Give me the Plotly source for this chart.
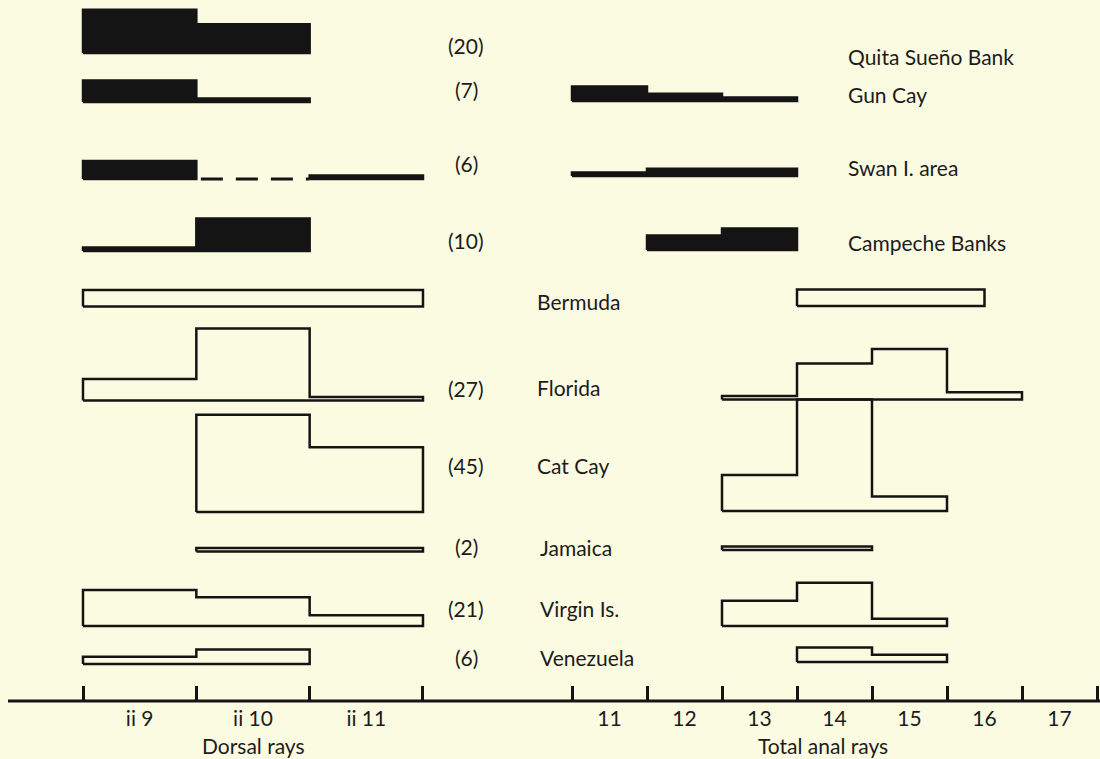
import plotly.graph_objects as go

# ---------------- data ----------------
regions = ["Quita Sueño Bank", "Gun Cay", "Swan I. area", "Campeche Banks", "Bermuda",
           "Florida", "Cat Cay", "Jamaica", "Virgin Is.", "Venezuela"]
sample_sizes = [20, 7, 6, 10, None, 27, 45, 2, 21, 6]

dorsal_bins = [9, 10, 11]
dorsal_tick_labels = ["ii 9", "ii 10", "ii 11"]
anal_bins = [11, 12, 13, 14, 15, 16]
anal_tick_vals = [11, 12, 13, 14, 15, 16, 17]
anal_tick_labels = ["11", "12", "13", "14", "15", "16", "17"]

# counts per bin (ii9, ii10, ii11)
dorsal_quita = [12, 8, 0]
dorsal_gun = [6, 1, 0]
dorsal_swan = [5, 0, 1]
dorsal_campeche = [1, 9, 0]
dorsal_florida = [6, 20, 1]
dorsal_catcay = [0, 27, 18]
dorsal_jamaica = [0, 1, 1]
dorsal_virgin = [10, 8, 3]
dorsal_venezuela = [2, 4, 0]

# counts per bin (11, 12, 13, 14, 15, 16)
anal_gun = [4, 2, 1, 0, 0, 0]
anal_swan = [1, 2, 2, 0, 0, 0]
anal_campeche = [0, 4, 6, 0, 0, 0]
anal_florida = [0, 0, 1, 10, 14, 2]
anal_catcay = [0, 0, 10, 31, 4, 0]
anal_jamaica = [0, 0, 1, 1, 0, 0]
anal_virgin = [0, 0, 7, 12, 2, 0]
anal_venezuela = [0, 0, 0, 4, 2, 0]

# Bermuda: ranges only
bermuda_dorsal_range = [8.5, 11.5]
bermuda_anal_range = [13.5, 16.0]

dorsal_data = {"Quita Sueño Bank": dorsal_quita, "Gun Cay": dorsal_gun, "Swan I. area": dorsal_swan,
               "Campeche Banks": dorsal_campeche, "Florida": dorsal_florida, "Cat Cay": dorsal_catcay,
               "Jamaica": dorsal_jamaica, "Virgin Is.": dorsal_virgin, "Venezuela": dorsal_venezuela}
anal_data = {"Gun Cay": anal_gun, "Swan I. area": anal_swan, "Campeche Banks": anal_campeche,
             "Florida": anal_florida, "Cat Cay": anal_catcay, "Jamaica": anal_jamaica,
             "Virgin Is.": anal_virgin, "Venezuela": anal_venezuela}
filled_regions = {"Quita Sueño Bank", "Gun Cay", "Swan I. area", "Campeche Banks"}

# ---------------- layout / style ----------------
W, H = 1100, 759
AXIS_PX = 701
PX_PER_UNIT = 3.6
BOX_H = 4.6
BG = "#fbfbe2"
INK = "#141414"
TXT = "#1c1c1c"
FONT = "Lato"
FS = 21
LW = 2.5

base_px_d = {"Quita Sueño Bank": 53, "Gun Cay": 102, "Swan I. area": 179, "Campeche Banks": 251,
             "Bermuda": 306.5, "Florida": 400.5, "Cat Cay": 512, "Jamaica": 551.5,
             "Virgin Is.": 626, "Venezuela": 664}
base_px_a = {"Gun Cay": 101, "Swan I. area": 176, "Campeche Banks": 250, "Bermuda": 306,
             "Florida": 399.5, "Cat Cay": 511, "Jamaica": 550, "Virgin Is.": 626, "Venezuela": 662}

count_pos = {"Quita Sueño Bank": 46, "Gun Cay": 89, "Swan I. area": 163, "Campeche Banks": 240,
             "Florida": 388, "Cat Cay": 465, "Jamaica": 546, "Virgin Is.": 608, "Venezuela": 657}
name_pos = {"Quita Sueño Bank": (846, 56), "Gun Cay": (846, 95), "Swan I. area": (846, 167),
            "Campeche Banks": (846, 243), "Bermuda": (535, 301), "Florida": (535, 387),
            "Cat Cay": (535, 465), "Jamaica": (538, 547), "Virgin Is.": (538, 608),
            "Venezuela": (538, 657)}


def yu(px):
    return (AXIS_PX - px) / PX_PER_UNIT


def step_polygons(bins, counts, base):
    """Outline polygons for runs of non-zero bins, plus interior empty gaps."""
    polys, gaps = [], []
    n = len(bins)
    nz = [k for k in range(n) if counts[k] > 0]
    if not nz:
        return polys, gaps
    first, last = nz[0], nz[-1]
    i = first
    while i <= last:
        if counts[i] == 0:
            j = i
            while counts[j] == 0:
                j += 1
            gaps.append((bins[i] - 0.5, bins[j - 1] + 0.5))
            i = j
            continue
        j = i
        xs, ys = [bins[i] - 0.5], [base]
        while j <= last and counts[j] > 0:
            xs += [bins[j] - 0.5, bins[j] + 0.5]
            ys += [base + counts[j], base + counts[j]]
            j += 1
        xs += [bins[j - 1] + 0.5, bins[i] - 0.5]
        ys += [base, base]
        polys.append((xs, ys))
        i = j
    return polys, gaps


fig = go.Figure()


def add_hist(bins, counts, base, xaxis, filled):
    polys, gaps = step_polygons(bins, counts, base)
    for xs, ys in polys:
        fig.add_trace(go.Scatter(
            x=xs, y=ys, xaxis=xaxis, yaxis="y", mode="lines",
            fill="toself", fillcolor=INK if filled else "rgba(0,0,0,0)",
            line=dict(color=INK, width=LW), hoverinfo="skip", showlegend=False))
    for x0, x1 in gaps:
        fig.add_trace(go.Scatter(
            x=[x0 + 0.04, x1], y=[base, base], xaxis=xaxis, yaxis="y", mode="lines",
            line=dict(color=INK, width=3, dash="22px,13px"), hoverinfo="skip", showlegend=False))


def add_box(rng, base, xaxis):
    fig.add_trace(go.Scatter(
        x=[rng[0], rng[0], rng[1], rng[1], rng[0]],
        y=[base, base + BOX_H, base + BOX_H, base, base],
        xaxis=xaxis, yaxis="y", mode="lines", line=dict(color=INK, width=LW),
        hoverinfo="skip", showlegend=False))


for r in regions:
    filled = r in filled_regions
    if r in dorsal_data:
        add_hist(dorsal_bins, dorsal_data[r], yu(base_px_d[r]), "x", filled)
    if r in anal_data:
        add_hist(anal_bins, anal_data[r], yu(base_px_a[r]), "x2", filled)

add_box(bermuda_dorsal_range, yu(base_px_d["Bermuda"]), "x")
add_box(bermuda_anal_range, yu(base_px_a["Bermuda"]), "x2")

# ---------------- annotations ----------------
ann = []
for r, n in zip(regions, sample_sizes):
    if n is not None:
        ann.append(dict(x=466 / W, y=(AXIS_PX - count_pos[r]) / AXIS_PX, xref="paper", yref="paper",
                        text=f"({n})", showarrow=False, xanchor="center", yanchor="middle",
                        font=dict(family=FONT, size=FS, color=TXT)))
    px, py = name_pos[r]
    ann.append(dict(x=px / W, y=(AXIS_PX - py) / AXIS_PX, xref="paper", yref="paper",
                    text=r, showarrow=False, xanchor="left", yanchor="middle",
                    font=dict(family=FONT, size=FS, color=TXT)))

ann.append(dict(x=10, xref="x", y=(AXIS_PX - 745) / AXIS_PX, yref="paper", text="Dorsal rays",
                showarrow=False, xanchor="center", yanchor="middle",
                font=dict(family=FONT, size=FS, color=TXT)))
ann.append(dict(x=13.85, xref="x2", y=(AXIS_PX - 745) / AXIS_PX, yref="paper", text="Total anal rays",
                showarrow=False, xanchor="center", yanchor="middle",
                font=dict(family=FONT, size=FS, color=TXT)))

d_unit = 113.33
a_unit = 75.0
xaxis_common = dict(showgrid=False, zeroline=False, showline=False, ticks="",
                    ticklabelstandoff=3,
                    tickfont=dict(family=FONT, size=FS, color=TXT), fixedrange=True)

fig.update_layout(
    width=W, height=H, paper_bgcolor=BG, plot_bgcolor=BG,
    margin=dict(l=0, r=0, t=0, b=H - AXIS_PX),
    showlegend=False,
    xaxis=dict(range=[8.5 - 83 / d_unit, 8.5 + (W - 83) / d_unit], domain=[0, 1], anchor="y",
               tickmode="array", tickvals=dorsal_bins, ticktext=dorsal_tick_labels,
               minor=dict(ticks="inside", ticklen=15, tickwidth=2.5, tickcolor=INK,
                          tickmode="array", tickvals=[8.5, 9.5, 10.5, 11.5], showgrid=False),
               **xaxis_common),
    xaxis2=dict(range=[10.5 - 572 / a_unit, 10.5 + (W - 572) / a_unit], domain=[0, 1], anchor="y",
                overlaying="x", side="bottom",
                tickmode="array", tickvals=anal_tick_vals, ticktext=anal_tick_labels,
                minor=dict(ticks="inside", ticklen=15, tickwidth=2.5, tickcolor=INK,
                           tickmode="array", tickvals=[10.5, 11.5, 12.5, 13.5, 14.5, 15.5, 16.5, 17.5],
                           showgrid=False),
                **xaxis_common),
    yaxis=dict(range=[0, AXIS_PX / PX_PER_UNIT], domain=[0, 1], visible=False, fixedrange=True),
    annotations=ann,
    shapes=[dict(type="line", xref="paper", yref="paper", x0=8 / W, x1=1, y0=0, y1=0,
                 line=dict(color=INK, width=3))],
)

fig.write_html("out.html")
